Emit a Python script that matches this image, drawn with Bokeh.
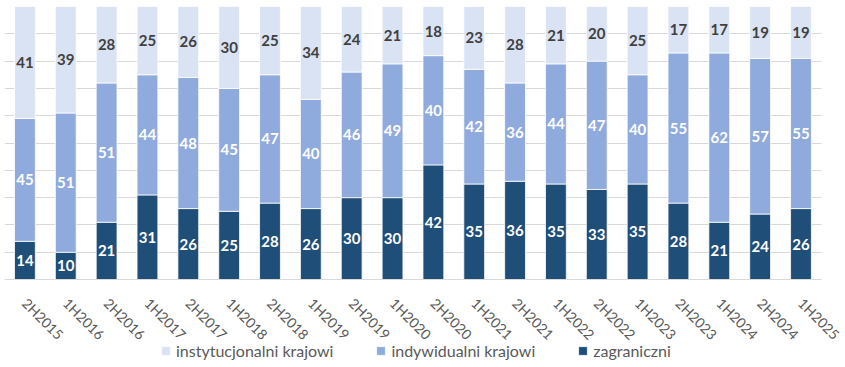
from bokeh.plotting import figure
from bokeh.models import ColumnDataSource, Range1d, FixedTicker, Legend, LegendItem
from bokeh.core.properties import value
from bokeh.embed import file_html
from bokeh.resources import INLINE
import math

categories = ["2H2015", "1H2016", "2H2016", "1H2017", "2H2017", "1H2018", "2H2018",
              "1H2019", "2H2019", "1H2020", "2H2020", "1H2021", "2H2021", "1H2022",
              "2H2022", "1H2023", "2H2023", "1H2024", "2H2024", "1H2025"]
zagraniczni = [14, 10, 21, 31, 26, 25, 28, 26, 30, 30, 42, 35, 36, 35, 33, 35, 28, 21, 24, 26]
indywidualni = [45, 51, 51, 44, 48, 45, 47, 40, 46, 49, 40, 42, 36, 44, 47, 40, 55, 62, 57, 55]
instytucjonalni = [41, 39, 28, 25, 26, 30, 25, 34, 24, 21, 18, 23, 28, 21, 20, 25, 17, 17, 19, 19]

names = ["zagraniczni", "indywidualni krajowi", "instytucjonalni krajowi"]
colors = ["#1F4E79", "#8FAADC", "#DAE3F3"]
label_colors = ["white", "white", "#404040"]
FONT = "Lato"

xs = list(range(len(categories)))
data = dict(x=xs, s0=zagraniczni, s1=indywidualni, s2=instytucjonalni)
source = ColumnDataSource(data)

# frame covers the lower label/legend area too; value 0 sits at pixel 279, 100 at pixel 6
p = figure(frame_width=841, frame_height=361, output_backend="svg", toolbar_location=None,
           x_range=Range1d(-0.5, 20.09), y_range=Range1d(-32.2, 100),
           min_border_left=4, min_border_right=0, min_border_top=6, min_border_bottom=0)
p.outline_line_color = None
p.background_fill_color = "white"

renderers = p.vbar_stack(["s0", "s1", "s2"], x="x", width=0.51, source=source,
                         color=colors, line_color="white", line_width=0.8)

# value labels
series = [zagraniczni, indywidualni, instytucjonalni]
bottom = [0] * len(categories)
for k, s in enumerate(series):
    mids = [b + v / 2 for b, v in zip(bottom, s)]
    bottom = [b + v for b, v in zip(bottom, s)]
    lsrc = ColumnDataSource(dict(x=xs, y=mids, t=[str(v) for v in s]))
    p.text(x="x", y="y", text="t", source=lsrc, text_align="center", text_baseline="middle",
           text_font=value(FONT), text_font_style="bold", text_font_size="15px",
           text_color=label_colors[k])

# axes
p.yaxis.visible = False
p.xaxis.fixed_location = 0
p.xaxis.bounds = (-0.5, 19.5)
p.xaxis.ticker = FixedTicker(ticks=xs)
p.xaxis.major_label_overrides = {i: c for i, c in enumerate(categories)}
p.xaxis.major_label_orientation = -math.pi / 4
p.xaxis.major_label_text_font = FONT
p.xaxis.major_label_text_font_size = "14px"
p.xaxis.major_label_text_color = "#595959"
p.xaxis.major_label_standoff = 15
p.xaxis.major_tick_line_color = None
p.xaxis.minor_tick_line_color = None
p.xaxis.axis_line_color = "#D9D9D9"
p.xgrid.grid_line_color = None
p.ygrid.ticker = FixedTicker(ticks=list(range(0, 101, 10)))
p.ygrid.grid_line_color = "#D9D9D9"
for g in p.ygrid:
    if "cross_bounds" in g.properties():
        g.cross_bounds = (-0.5, 19.5)

legend = Legend(items=[LegendItem(label=names[2], renderers=[renderers[2]]),
                       LegendItem(label=names[1], renderers=[renderers[1]]),
                       LegendItem(label=names[0], renderers=[renderers[0]])],
                orientation="horizontal", location=(156, 7))
legend.label_text_font = FONT
legend.label_text_font_size = "16px"
legend.label_text_color = "#595959"
legend.glyph_width = 11
legend.glyph_height = 11
legend.label_standoff = 5
legend.spacing = 42
legend.border_line_color = None
legend.background_fill_alpha = 0
legend.padding = 0
legend.margin = 0
legend.label_height = 16
p.add_layout(legend, "center")

open("out.html", "w").write(file_html(p, INLINE))
